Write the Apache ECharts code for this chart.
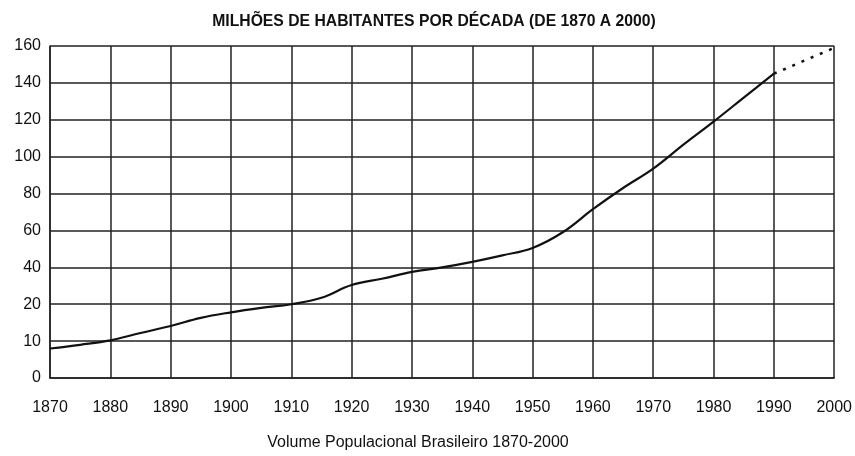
<!DOCTYPE html>
<html>
<head>
<meta charset="utf-8">
<script src="https://cdn.jsdelivr.net/npm/echarts@6/dist/echarts.min.js"></script>
<style>html,body{margin:0;padding:0;background:#fff}#c{width:855px;height:456px}</style>
</head>
<body>
<div id="c"></div>
<script>
// Y tick labels (evenly spaced on the chart, non-uniform values)
const yTickLabels = [0, 10, 20, 40, 60, 80, 100, 120, 140, 160];
// Observed population (millions)
const years = [1870, 1875, 1880, 1885, 1890, 1895, 1900, 1905, 1910, 1915, 1920, 1925, 1930, 1935, 1940, 1945, 1950, 1955, 1960, 1965, 1970, 1975, 1980, 1985, 1990];
const population = [8, 9, 10.2, 12.2, 14.1, 16.3, 17.8, 19, 20, 23.5, 30.4, 33.8, 37.5, 40, 43, 46.5, 50.5, 59, 71.5, 83, 93.5, 106.5, 119, 132, 145];
// Projection (dotted)
const projYears = [1990, 2000];
const projPopulation = [145, 159];

// axis scale: piecewise-linear mapping of value to the evenly spaced tick index
function toAxis(v) {
  for (let i = 0; i < yTickLabels.length - 1; i++) {
    const a = yTickLabels[i], b = yTickLabels[i + 1];
    if (v <= b) return i + (v - a) / (b - a);
  }
  return yTickLabels.length - 1;
}

const chart = echarts.init(document.getElementById('c'));
const font = "'Liberation Sans', Arial, Helvetica, sans-serif";
chart.setOption({
  animation: false,
  backgroundColor: '#fff',
  graphic: [
    { type: 'text', x: 434, y: 21, scaleX: 0.925,
      style: { text: 'MILHÕES DE HABITANTES POR DÉCADA (DE 1870 A 2000)', font: "bold 17px 'Liberation Sans', Arial, sans-serif",
        fill: '#111', align: 'center', verticalAlign: 'middle' } },
    { type: 'text', x: 418, y: 443,
      style: { text: 'Volume Populacional Brasileiro 1870-2000', font: "16px 'Liberation Sans', Arial, sans-serif",
        fill: '#111', align: 'center', verticalAlign: 'middle' } }
  ],
  grid: { left: 50, right: 17, top: 46, bottom: 78 },
  xAxis: {
    type: 'value', min: 1870, max: 2000, interval: 10,
    axisLine: { show: true, lineStyle: { color: '#222', width: 1.5 } },
    axisTick: { show: false },
    splitLine: { show: true, lineStyle: { color: '#222', width: 1.5 } },
    axisLabel: { formatter: v => String(v), margin: 22, fontFamily: font, fontSize: 16, color: '#111' }
  },
  yAxis: {
    type: 'value', min: 0, max: yTickLabels.length - 1, interval: 1,
    axisLine: { show: true, lineStyle: { color: '#222', width: 1.5 } },
    axisTick: { show: false },
    splitLine: { show: true, lineStyle: { color: '#222', width: 1.5 } },
    axisLabel: { formatter: v => String(yTickLabels[Math.round(v)]), margin: 9, fontFamily: font, fontSize: 16, color: '#111' }
  },
  series: [
    { type: 'line', data: years.map((y, i) => [y, toAxis(population[i])]), smooth: 0.4,
      showSymbol: false, lineStyle: { color: '#111', width: 2.2, join: 'round' } },
    { type: 'line', data: projYears.map((y, i) => [y, toAxis(projPopulation[i])]),
      showSymbol: false, lineStyle: { color: '#111', width: 2.5, type: [3, 7] } }
  ]
});
</script>
</body>
</html>
